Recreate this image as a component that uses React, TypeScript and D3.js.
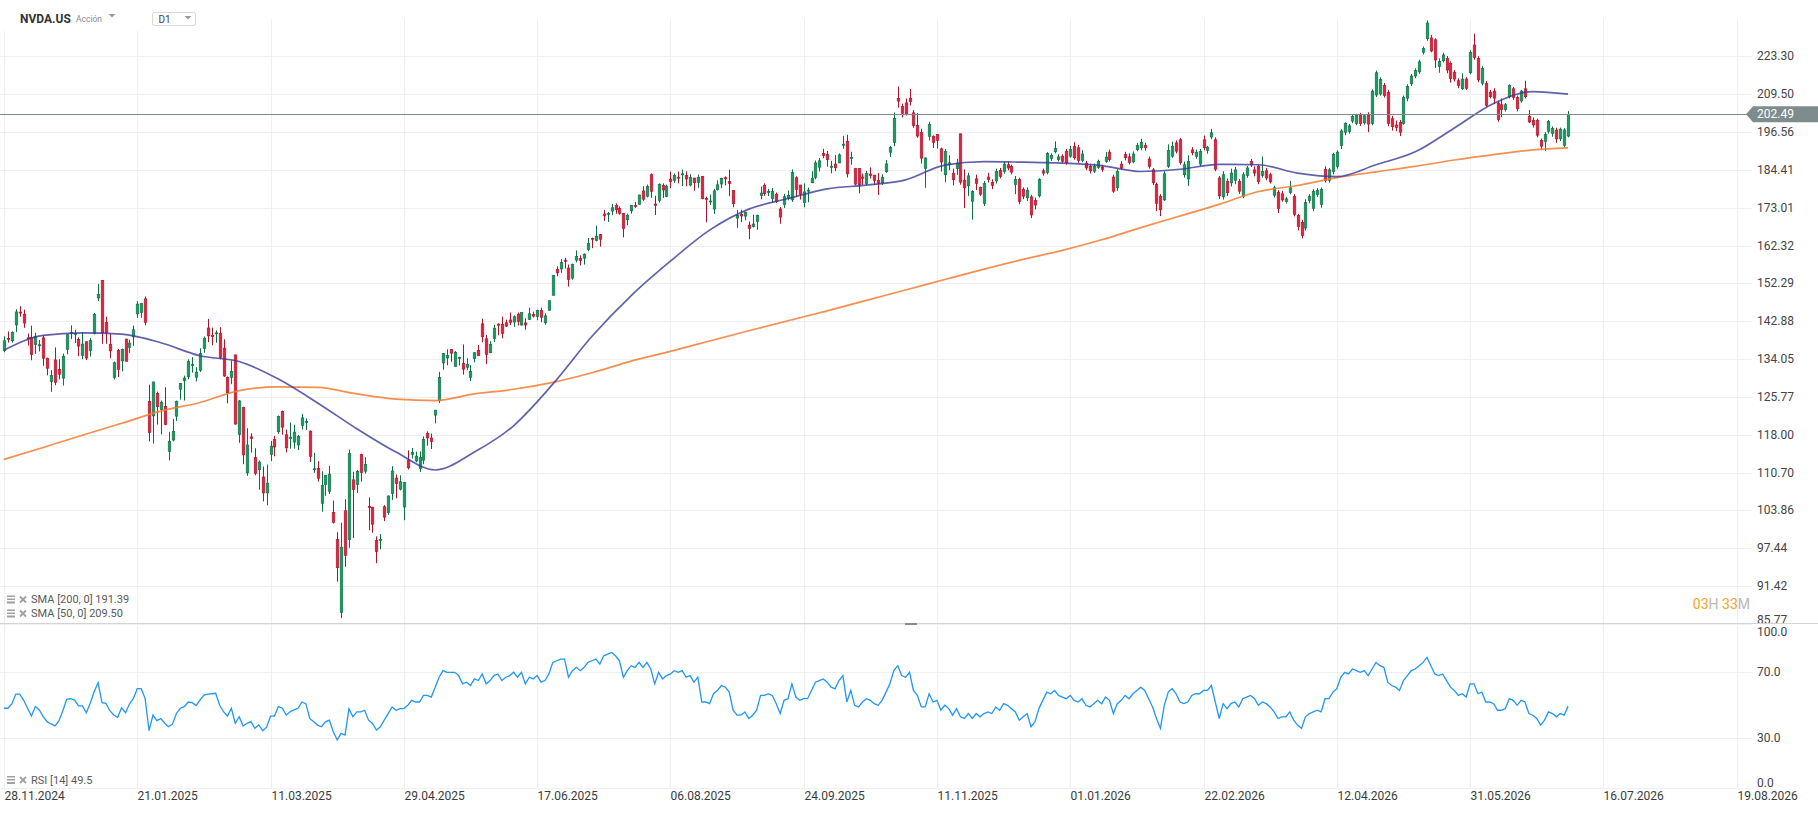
import * as d3 from 'd3'

// NVDA.US daily bars, first bar 29.11.2024
const OPEN = [
  136.0, 138.83, 138.26, 142.0, 145.11, 144.6, 138.97, 139.01, 137.36, 137.08,
  138.94, 134.18, 129.09, 133.86, 131.76, 129.81, 136.28, 140.0, 139.7, 138.55,
  134.83, 138.03, 136.0, 140.01, 148.59, 153.03, 142.58, 137.45, 129.99, 136.05,
  133.65, 138.64, 136.69, 139.16, 144.66, 145.05, 148.37, 124.8, 121.81, 126.5,
  123.1, 123.78, 114.75, 116.96, 121.76, 127.42, 129.22, 130.09, 132.58, 130.02,
  131.56, 136.48, 141.27, 139.51, 140.03, 140.04, 136.56, 129.98, 129.99, 135.0,
  118.02, 123.51, 110.65, 117.58, 113.53, 111.25, 109.9, 106.99, 114.12, 117.03,
  118.61, 122.74, 118.0, 117.27, 116.55, 116.0, 119.88, 120.55, 118.73, 111.35,
  111.49, 105.13, 108.52, 107.29, 103.51, 98.91, 87.46, 103.81, 98.89, 109.37,
  108.5, 114.11, 110.97, 104.55, 104.45, 98.77, 98.78, 104.52, 103.48, 106.85,
  109.69, 107.67, 104.47, 113.08, 114.18, 112.91, 111.48, 113.05, 118.25, 117.35,
  121.97, 124.98, 133.2, 134.3, 136.22, 132.39, 134.29, 133.06, 132.23, 129.99,
  134.15, 136.03, 142.25, 138.72, 135.49, 138.78, 142.19, 142.17, 142.51, 143.19,
  142.69, 144.61, 141.97, 142.48, 143.35, 144.49, 144.01, 145.45, 142.5, 145.56,
  149.27, 155.98, 156.04, 158.37, 156.29, 153.66, 158.37, 158.8, 158.9, 161.22,
  164.32, 163.72, 165.37, 171.19, 171.06, 172.02, 173.64, 172.75, 171.34, 169.53,
  172.08, 173.61, 174.02, 177.96, 176.4, 182.9, 174.09, 175.16, 179.62, 176.33,
  181.57, 181.12, 182.16, 182.96, 182.62, 179.75, 181.88, 180.6, 182.43, 175.71,
  174.85, 172.61, 178.35, 180.06, 181.98, 180.82, 178.11, 170.0, 171.06, 170.57,
  168.03, 167.55, 169.08, 176.64, 179.68, 177.77, 175.67, 177.0, 172.64, 173.98,
  175.77, 175.3, 181.97, 179.77, 174.48, 178.17, 180.43, 182.08, 185.24, 189.6,
  189.19, 185.5, 186.23, 186.57, 192.23, 193.51, 187.97, 184.77, 184.8, 182.23,
  180.18, 183.13, 182.79, 181.14, 180.42, 183.83, 189.99, 193.05, 207.98, 205.15,
  206.45, 208.08, 203.0, 198.77, 196.42, 184.9, 195.11, 195.16, 195.72, 191.05,
  182.86, 185.97, 183.38, 184.79, 195.95, 181.24, 179.49, 174.91, 181.63, 179.01,
  174.3, 182.2, 180.6, 181.0, 184.2, 183.9, 186.0, 185.5, 179.9, 181.4,
  178.4, 175.9, 176.2, 175.1, 176.5, 184.1, 183.6, 188.0, 190.1, 187.6,
  188.7, 190.3, 188.7, 191.9, 191.4, 187.4, 186.5, 185.5, 184.0, 185.2,
  185.3, 187.0, 190.0, 182.2, 178.9, 186.2, 189.2, 188.5, 186.9, 190.8,
  191.4, 192.1, 187.8, 184.4, 179.9, 176.4, 175.3, 185.5, 188.7, 193.0,
  194.0, 182.9, 181.6, 190.7, 188.6, 186.2, 194.0, 190.5, 194.9, 194.0,
  181.9, 176.2, 180.9, 180.4, 181.2, 180.9, 176.4, 182.6, 187.0, 184.4,
  185.5, 182.7, 184.1, 182.9, 176.7, 177.6, 177.1, 174.8, 177.5, 176.4,
  170.7, 168.8, 167.2, 175.1, 172.8, 176.9, 174.0, 184.6, 181.2, 183.9,
  185.5, 192.1, 196.5, 196.7, 200.2, 199.4, 202.1, 199.6, 202.1, 199.4,
  209.2, 209.6, 212.6, 210.2, 201.0, 198.9, 199.8, 199.4, 208.1, 213.2,
  216.0, 217.5, 224.8, 230.0, 230.3, 229.6, 219.5, 221.6, 222.5, 220.6,
  217.4, 214.3, 211.4, 214.9, 217.2, 227.6, 222.5, 213.4, 213.4, 210.2,
  210.6, 206.4, 205.8, 204.1, 208.6, 211.4, 208.3, 207.1, 211.4, 201.9,
  200.5, 200.5, 193.7, 193.5, 196.8, 196.1, 197.2, 194.3, 192.2, 195.2,
]

const HIGH = [
  139.3, 140.45, 140.45, 145.79, 146.54, 145.7, 139.95, 141.82, 140.17, 138.44,
  139.6, 134.4, 131.59, 136.7, 134.03, 135.29, 139.79, 141.9, 140.85, 139.02,
  140.27, 138.07, 138.88, 144.9, 152.16, 153.13, 143.95, 139.92, 133.49, 136.38,
  136.45, 138.75, 138.5, 141.83, 147.79, 147.23, 148.97, 128.4, 129.0, 126.89,
  125.0, 127.85, 118.57, 121.2, 125.0, 128.77, 130.37, 133.99, 134.48, 132.24,
  136.5, 139.25, 143.44, 141.36, 140.67, 141.46, 138.59, 130.2, 133.73, 135.01,
  125.09, 123.7, 119.31, 118.28, 115.35, 113.0, 111.85, 112.23, 116.77, 117.76,
  121.89, 122.9, 119.02, 120.45, 120.0, 117.96, 122.22, 121.29, 118.84, 114.45,
  112.87, 110.96, 110.2, 111.98, 105.63, 100.13, 101.75, 105.85, 115.1, 110.86,
  111.2, 114.29, 113.62, 106.19, 104.47, 99.42, 99.81, 104.8, 106.54, 111.92,
  110.37, 110.2, 108.92, 114.94, 115.4, 114.67, 114.74, 117.68, 118.68, 118.23,
  123.0, 131.22, 135.44, 136.3, 136.35, 135.87, 134.58, 137.4, 134.25, 132.68,
  135.66, 137.25, 143.49, 139.62, 138.12, 142.0, 142.39, 144.0, 143.27, 145.0,
  144.29, 144.99, 145.0, 143.58, 146.18, 145.22, 145.65, 146.2, 144.78, 147.96,
  154.45, 156.72, 158.71, 158.99, 157.2, 157.45, 160.98, 159.67, 160.16, 164.42,
  164.5, 167.89, 165.49, 172.4, 171.75, 174.16, 174.25, 173.38, 171.39, 171.26,
  173.8, 174.72, 176.82, 179.38, 179.89, 183.3, 176.54, 180.26, 180.26, 179.89,
  183.88, 183.3, 183.85, 184.5, 183.97, 183.03, 181.9, 182.94, 182.5, 176.25,
  176.9, 178.58, 181.18, 182.0, 182.35, 184.47, 178.15, 172.38, 172.41, 171.86,
  169.03, 170.96, 170.98, 179.29, 180.28, 178.6, 178.85, 177.5, 173.2, 177.1,
  178.08, 184.55, 182.42, 179.78, 180.26, 178.97, 184.0, 187.35, 188.14, 191.05,
  190.36, 187.23, 189.06, 189.6, 195.3, 195.62, 190.11, 184.8, 184.87, 183.28,
  184.1, 185.2, 182.79, 183.44, 183.03, 187.47, 192.0, 203.15, 212.19, 206.16,
  207.97, 211.34, 203.97, 202.92, 197.62, 188.32, 199.94, 195.42, 195.89, 191.44,
  191.01, 189.0, 184.8, 187.86, 196.0, 184.56, 183.5, 178.16, 182.91, 179.29,
  181.0, 183.5, 181.5, 184.8, 185.0, 186.9, 187.0, 186.0, 182.5, 182.0,
  179.0, 179.0, 176.8, 176.0, 181.8, 184.8, 190.0, 189.6, 193.5, 189.3,
  189.3, 191.0, 192.0, 193.2, 192.3, 190.6, 187.2, 186.3, 186.4, 187.6,
  186.0, 190.0, 190.8, 182.9, 184.6, 187.1, 190.1, 189.6, 190.2, 193.0,
  194.3, 193.0, 188.6, 185.0, 180.5, 177.0, 184.0, 192.5, 193.4, 193.8,
  194.6, 187.0, 189.0, 191.6, 190.8, 191.0, 195.4, 192.0, 197.6, 194.8,
  182.5, 184.0, 181.7, 184.8, 185.3, 181.6, 183.7, 185.6, 187.8, 185.5,
  186.0, 188.6, 185.0, 183.5, 179.5, 178.2, 178.0, 176.2, 181.0, 177.0,
  171.2, 169.5, 175.5, 177.0, 178.5, 178.8, 179.0, 185.5, 185.0, 189.8,
  190.6, 197.5, 199.8, 199.2, 202.4, 202.7, 203.0, 202.6, 203.2, 211.2,
  218.0, 215.5, 213.5, 211.0, 202.0, 200.4, 200.6, 209.0, 213.0, 216.8,
  218.8, 222.0, 227.0, 237.2, 231.5, 230.2, 222.5, 224.6, 223.4, 221.4,
  218.2, 215.2, 217.0, 215.6, 225.6, 232.0, 223.3, 219.6, 214.2, 211.0,
  211.6, 207.2, 208.0, 206.4, 213.0, 212.0, 209.0, 211.0, 214.3, 204.0,
  201.4, 201.0, 194.4, 196.5, 200.6, 198.4, 198.0, 198.0, 197.8, 203.6,
]

const LOW = [
  135.6, 137.82, 137.82, 140.29, 143.95, 141.31, 137.13, 133.79, 135.21, 135.8,
  132.54, 130.42, 126.86, 128.28, 129.55, 128.22, 135.12, 138.65, 137.73, 134.71,
  134.02, 133.83, 134.63, 139.73, 147.82, 137.56, 137.56, 134.22, 129.51, 130.05,
  131.29, 133.49, 135.46, 137.09, 143.67, 143.72, 141.88, 116.7, 116.25, 120.05,
  118.1, 119.9, 113.01, 116.7, 120.76, 125.21, 125.0, 129.58, 131.02, 129.08,
  131.17, 135.5, 137.93, 137.22, 137.78, 134.03, 130.08, 124.44, 128.49, 120.01,
  116.4, 112.28, 110.11, 114.51, 110.22, 107.56, 105.46, 104.77, 112.88, 113.79,
  118.15, 118.0, 114.54, 115.27, 115.27, 115.0, 119.03, 118.96, 112.7, 110.66,
  109.07, 103.65, 106.47, 106.79, 101.6, 92.11, 86.62, 94.46, 97.53, 99.15,
  107.0, 109.07, 110.5, 100.48, 100.05, 95.04, 97.28, 102.02, 103.11, 105.73,
  106.02, 107.44, 102.16, 111.3, 113.37, 112.66, 110.82, 112.28, 115.85, 115.21,
  120.28, 124.47, 131.68, 132.66, 133.46, 132.39, 132.62, 130.59, 131.55, 129.16,
  133.31, 134.79, 137.91, 132.92, 135.4, 137.95, 139.55, 138.83, 141.51, 141.94,
  141.53, 141.87, 141.85, 140.85, 143.2, 143.78, 143.12, 142.65, 142.03, 145.5,
  149.26, 154.13, 155.02, 156.16, 151.49, 153.26, 157.77, 157.0, 157.2, 160.76,
  161.61, 163.47, 162.02, 169.2, 168.9, 170.83, 171.26, 171.0, 164.58, 167.97,
  171.27, 172.96, 173.9, 175.02, 176.04, 175.93, 170.89, 174.52, 175.9, 176.1,
  178.8, 180.4, 180.25, 179.46, 179.35, 179.35, 178.04, 178.9, 175.49, 168.8,
  173.81, 171.2, 178.1, 178.81, 179.62, 176.41, 173.14, 167.22, 168.89, 169.41,
  164.07, 167.35, 166.73, 175.47, 176.48, 176.45, 174.51, 174.38, 168.41, 172.96,
  175.18, 174.71, 176.21, 175.4, 173.13, 174.61, 180.32, 181.48, 183.9, 188.06,
  185.38, 183.33, 184.0, 186.54, 191.06, 182.05, 185.96, 179.7, 177.29, 179.77,
  179.75, 181.73, 179.8, 176.76, 179.79, 183.5, 188.43, 191.91, 204.78, 201.41,
  202.07, 205.56, 197.93, 194.65, 186.38, 178.91, 193.79, 191.3, 191.13, 183.85,
  180.58, 184.32, 179.65, 182.83, 179.85, 172.93, 176.48, 169.55, 178.24, 176.5,
  173.5, 180.5, 178.5, 180.2, 181.8, 183.2, 184.3, 183.0, 177.0, 174.0,
  175.5, 175.0, 170.0, 172.5, 176.0, 182.6, 183.0, 187.2, 189.6, 187.0,
  186.6, 186.0, 188.2, 187.6, 186.6, 186.8, 184.3, 183.3, 183.4, 184.7,
  183.8, 186.6, 187.0, 177.4, 178.0, 184.4, 187.4, 186.1, 186.5, 190.3,
  190.6, 190.5, 184.8, 179.8, 172.0, 170.6, 175.0, 185.0, 188.2, 189.6,
  186.0, 182.0, 179.5, 189.0, 187.9, 185.6, 190.6, 189.5, 194.2, 184.0,
  175.6, 175.4, 176.5, 179.3, 180.0, 177.1, 175.8, 182.0, 185.3, 182.4,
  180.0, 182.0, 181.2, 180.2, 176.0, 171.5, 174.8, 174.2, 177.0, 170.5,
  166.5, 164.3, 166.5, 174.3, 172.0, 176.2, 173.0, 180.5, 180.5, 183.0,
  184.8, 191.0, 195.5, 196.0, 199.5, 198.8, 198.6, 199.0, 196.5, 198.8,
  208.5, 209.0, 208.3, 198.5, 197.0, 196.8, 195.2, 199.0, 207.0, 212.4,
  215.2, 216.8, 224.0, 229.2, 224.8, 219.0, 217.2, 221.0, 217.0, 213.6,
  214.0, 211.6, 211.0, 211.0, 216.6, 222.0, 213.8, 212.6, 205.0, 208.0,
  206.0, 200.0, 201.5, 203.5, 208.0, 207.5, 203.5, 206.5, 208.0, 199.5,
  198.0, 194.8, 190.8, 190.4, 196.0, 195.0, 193.0, 193.6, 191.5, 194.8,
]

const CLOSE = [
  138.25, 138.63, 140.26, 145.14, 145.06, 142.44, 138.81, 135.07, 139.31, 137.34,
  134.25, 132.0, 130.39, 128.91, 130.68, 134.7, 139.67, 140.22, 139.93, 137.01,
  137.49, 134.29, 138.31, 144.47, 149.43, 140.14, 140.11, 135.91, 133.23, 131.76,
  136.24, 133.57, 137.71, 140.83, 147.07, 147.22, 142.62, 118.42, 128.99, 123.7,
  124.65, 120.07, 116.66, 118.65, 124.83, 128.68, 129.84, 133.57, 132.8, 131.14,
  135.29, 138.85, 139.4, 139.23, 140.11, 134.43, 130.28, 126.63, 131.28, 120.15,
  124.92, 114.06, 115.99, 117.3, 110.57, 112.69, 106.98, 108.76, 115.74, 115.58,
  121.67, 119.53, 115.43, 117.52, 118.53, 117.7, 121.41, 120.69, 113.76, 111.43,
  109.67, 108.38, 110.15, 110.42, 101.8, 94.31, 97.64, 96.3, 114.33, 107.57,
  110.93, 110.71, 112.2, 104.49, 101.49, 96.91, 98.89, 102.71, 106.43, 111.01,
  108.73, 109.02, 108.92, 111.61, 114.5, 113.82, 113.54, 117.06, 117.37, 116.65,
  123.0, 129.93, 135.34, 134.83, 135.4, 135.57, 134.38, 131.8, 132.83, 131.29,
  135.5, 134.81, 139.19, 135.13, 137.38, 141.22, 141.92, 139.99, 141.72, 142.63,
  143.96, 142.83, 145.0, 141.97, 144.69, 144.12, 145.48, 143.85, 144.17, 147.9,
  154.31, 155.02, 157.75, 157.99, 153.3, 157.25, 159.34, 158.24, 160.0, 162.88,
  164.1, 164.92, 164.07, 170.7, 171.37, 173.0, 172.41, 171.38, 167.03, 170.78,
  173.74, 173.5, 176.75, 175.51, 179.27, 177.87, 173.72, 180.0, 178.26, 179.42,
  180.77, 182.7, 182.06, 183.16, 181.59, 182.02, 180.45, 182.01, 175.64, 175.4,
  174.98, 177.99, 179.81, 181.77, 181.6, 180.17, 174.18, 170.78, 170.62, 171.66,
  167.02, 168.31, 170.76, 177.33, 177.17, 177.82, 177.75, 174.88, 170.29, 176.24,
  176.67, 183.61, 178.43, 176.97, 177.69, 178.19, 181.85, 186.58, 187.24, 188.89,
  187.62, 185.54, 185.04, 189.11, 192.57, 183.16, 188.32, 180.03, 179.83, 181.81,
  183.22, 182.64, 181.16, 180.28, 182.16, 186.26, 191.49, 201.03, 207.04, 202.89,
  202.49, 206.88, 198.69, 195.21, 188.08, 188.15, 199.05, 193.16, 193.8, 186.86,
  190.17, 186.6, 181.36, 186.52, 180.64, 178.88, 182.55, 177.82, 180.26, 177.0,
  180.2, 181.4, 179.6, 183.9, 182.4, 186.2, 185.0, 183.7, 181.4, 174.8,
  176.4, 178.2, 170.9, 173.8, 181.4, 183.4, 189.5, 188.9, 191.1, 188.5,
  187.1, 186.6, 190.8, 188.2, 187.4, 189.4, 185.0, 184.1, 185.5, 187.0,
  184.5, 188.4, 187.6, 177.9, 183.9, 185.0, 188.2, 186.7, 189.4, 192.1,
  193.2, 191.4, 185.5, 180.4, 174.3, 172.4, 183.2, 190.5, 191.9, 190.3,
  186.7, 186.0, 187.0, 189.8, 190.0, 190.3, 191.4, 191.6, 196.3, 184.6,
  176.5, 182.9, 177.4, 183.4, 184.4, 177.9, 182.9, 185.0, 186.0, 183.4,
  180.8, 183.9, 181.9, 180.7, 178.9, 172.8, 175.3, 175.6, 178.9, 171.1,
  167.6, 165.1, 174.6, 176.4, 177.8, 178.1, 178.4, 181.1, 184.4, 189.2,
  190.0, 196.9, 199.4, 198.6, 201.8, 202.1, 199.4, 202.0, 199.2, 210.6,
  217.2, 214.7, 209.0, 199.4, 198.3, 198.0, 196.5, 208.3, 212.2, 216.0,
  218.0, 221.2, 226.3, 236.2, 225.3, 221.9, 221.3, 223.8, 218.2, 215.1,
  214.9, 212.6, 214.9, 211.6, 224.8, 222.8, 214.6, 218.8, 205.6, 208.6,
  208.1, 200.7, 204.1, 205.8, 212.6, 208.3, 204.4, 210.6, 208.6, 199.9,
  198.9, 195.5, 191.9, 195.7, 200.1, 197.8, 194.3, 197.5, 197.2, 202.49,
]

// RSI(14), one value per bar
const RSI = [
  48.2, 48.2, 50.8, 56.8, 56.8, 53.2, 48.2, 43.5, 49.2, 47.2,
  43.1, 40.1, 38.7, 37.5, 40.5, 46.7, 53.6, 54.0, 53.2, 49.6,
  49.6, 45.5, 51.2, 58.2, 63.7, 51.6, 51.2, 46.7, 44.1, 42.7,
  48.5, 45.5, 50.8, 54.2, 60.1, 60.1, 54.2, 34.6, 44.1, 40.7,
  41.9, 39.1, 37.0, 38.7, 45.2, 48.2, 49.2, 52.0, 51.6, 49.8,
  53.2, 56.2, 56.8, 57.0, 57.3, 50.2, 46.1, 43.5, 48.2, 39.1,
  43.1, 37.5, 39.1, 40.1, 36.1, 38.1, 34.6, 36.7, 43.5, 43.5,
  49.2, 48.2, 44.1, 46.1, 47.2, 48.2, 52, 51, 42, 40,
  38, 37, 40, 41, 34, 29, 33, 32, 48, 43,
  46, 46, 47, 41, 39, 35, 37, 41, 45, 49,
  47, 48, 48, 50, 53, 52, 52, 56, 56, 55,
  61, 67, 71, 70, 70, 70, 68, 63, 64, 62,
  66, 65, 69, 63, 65, 68, 69, 65, 67, 68,
  70, 67, 70, 63, 67, 66, 68, 64, 65, 69,
  76, 77, 78, 78, 67, 71, 73, 71, 73, 76,
  77, 78, 75, 80, 81, 82, 80, 77, 67, 71,
  74, 73, 76, 73, 76, 72, 63, 70, 66, 68,
  69, 71, 70, 71, 67, 68, 64, 67, 52, 52,
  51, 57, 59, 62, 61, 58, 47, 44, 44, 46,
  42, 44, 47, 56, 56, 57, 56, 51, 45, 53,
  54, 63, 55, 53, 54, 54, 59, 64, 65, 66,
  64, 61, 60, 65, 68, 52, 59, 50, 49, 52,
  54, 53, 51, 50, 53, 58, 63, 71, 74, 68,
  67, 70, 59, 56, 49, 49, 57, 52, 53, 47,
  50, 48, 44, 48, 43, 42, 45, 42, 45, 43,
  45, 46, 45, 49, 47, 51, 50, 48, 46, 41,
  43, 45, 37, 40, 48, 53, 58, 57, 59, 56,
  55, 54, 56, 53, 52, 54, 50, 49, 51, 53,
  51, 55, 53, 45, 51, 53, 56, 54, 57, 59,
  61, 59, 54, 49, 42, 36, 50, 58, 60, 57,
  52, 51, 52, 56, 57, 57, 59, 59, 62, 52,
  42, 51, 48, 51, 52, 49, 54, 55, 56, 54,
  50, 52, 51, 49, 46, 42, 43, 43, 46, 41,
  38, 36, 43, 45, 46, 47, 46, 54, 54, 58,
  60, 67, 70, 69, 72, 71, 70, 71, 68, 72,
  76, 74, 73, 64, 62, 61, 59, 65, 68, 71,
  72, 74, 76, 79, 74, 69, 68, 69, 65, 61,
  59, 56, 57, 55, 63, 63, 57, 58, 52, 52,
  51, 47, 47, 48, 54, 53, 50, 53, 52, 45,
  44, 42, 38, 41, 46, 45, 43, 45, 44, 49.5,
]

// moving averages sampled every 10 bars
const SMA_BARS = [
  0, 10, 20, 30, 40, 50, 60, 70, 80, 90, 100, 110, 120, 130, 140, 150, 160, 170, 180, 190,
  200, 210, 220, 230, 240, 250, 260, 270, 280, 290, 300, 310, 320, 330, 340, 350, 360, 370, 380, 390, 399,
]
const SMA200 = [
  113.2, 115.5, 117.9, 120.3, 122.8, 124.6, 127.1, 127.9, 127.8, 126.4,
  125.3, 125.0, 126.4, 127.4, 128.9, 131.0, 133.6, 135.8, 138.2, 140.6,
  143.0, 145.4, 148.0, 150.6, 153.3, 156.0, 158.6, 161.0, 163.9, 167.3,
  170.6, 174.0, 177.8, 179.6, 182.0, 183.8, 185.5, 187.5, 189.2, 190.7, 191.39,
]
const SMA50 = [
  136.1, 139.5, 140.1, 139.8, 137.8, 134.8, 133.5, 129.6, 124.5, 119.2,
  114.6, 111.2, 114.6, 119.8, 128.5, 139.3, 149.2, 158.1, 166.6, 172.6,
  175.7, 178.6, 179.7, 181.3, 185.9, 187.0, 186.8, 186.5, 185.7, 183.9,
  184.6, 186.1, 186.0, 183.4, 182.3, 186.0, 190.1, 197.9, 206.2, 210.4, 209.5,
]

const PRICE_TICKS = [223.3, 209.5, 196.56, 184.41, 173.01, 162.32, 152.29, 142.88, 134.05, 125.77, 118.0, 110.7, 103.86, 97.44, 91.42, 85.77]
const RSI_TICKS = [100, 70, 30, 0]
const DATE_LABELS = [
  '28.11.2024', '21.01.2025', '11.03.2025', '29.04.2025', '17.06.2025', '06.08.2025', '24.09.2025',
  '11.11.2025', '01.01.2026', '22.02.2026', '12.04.2026', '31.05.2026', '16.07.2026', '19.08.2026',
]
const BARS_PER_LABEL = 34
const LAST_PRICE = 202.49

const FONT = 'Roboto, "Noto Sans", Arial, sans-serif'
const GREEN = '#1c9963'
const GREEN_EDGE = '#0f6e45'
const RED = '#e2233f'
const RED_EDGE = '#a9162c'
const GRID = '#efefef'

export default function App() {
  const x = d3.scaleLinear().domain([0, BARS_PER_LABEL]).range([4, 137.28])
  const y = d3.scaleLog().domain([85.77, 223.3]).range([624.05, 56.3])
  const yr = d3.scaleLinear().domain([0, 100]).range([787.8, 622.8])

  const n = Math.min(OPEN.length, HIGH.length, LOW.length, CLOSE.length)
  const bars = d3.range(n)

  const smaLine = d3.line<number>()
    .x((_, k) => x(SMA_BARS[k]))
    .y(v => y(v))
    .curve(d3.curveMonotoneX)
  const rsiLine = d3.line<number>()
    .x((_, i) => x(i))
    .y(v => yr(v))

  const plotRight = 1752
  const axisX = 1757
  const lastY = y(LAST_PRICE)

  return (
    <svg width={1818} height={813} style={{ position: 'absolute', left: 0, top: 0, background: '#fff' }} fontFamily={FONT}>
      <rect width={1818} height={813} fill="#fff" />

      {/* vertical date grid */}
      {DATE_LABELS.map((_, k) => {
        const gx = Math.round(x(k * BARS_PER_LABEL)) + 0.5
        return <line key={`vg-${k}`} x1={gx} x2={gx} y1={19} y2={788} stroke={GRID} />
      })}

      {/* price grid + labels */}
      {PRICE_TICKS.map(t => {
        const gy = Math.round(y(t)) + 0.5
        return (
          <g key={`pt-${t}`}>
            <line x1={0} x2={plotRight} y1={gy} y2={gy} stroke={GRID} />
            <text x={axisX} y={Math.min(y(t), 619.5)} dominantBaseline="central" fontSize={12} fill="#444">
              {t.toFixed(2)}
            </text>
          </g>
        )
      })}

      {/* rsi grid + labels */}
      {RSI_TICKS.map(t => {
        const gy = Math.round(yr(t)) + 0.5
        return (
          <g key={`rt-${t}`}>
            {t < 100 && <line x1={0} x2={plotRight} y1={gy} y2={gy} stroke={GRID} />}
            <text x={axisX} y={Math.max(Math.min(yr(t), 782.5), 631.5)} dominantBaseline="central" fontSize={12} fill="#444">
              {t.toFixed(1)}
            </text>
          </g>
        )
      })}

      {/* panel separator */}
      <line x1={0} x2={1818} y1={623.5} y2={623.5} stroke="#d4d4d4" />
      <rect x={905} y={623} width={12} height={2} fill="#8a8a8a" />

      {/* candles */}
      {bars.map(i => {
        const o = OPEN[i], c = CLOSE[i]
        const up = c >= o
        const cx = Math.round(x(i)) + 0.5
        const top = y(Math.max(o, c))
        const bot = y(Math.min(o, c))
        return (
          <g key={`c-${i}`}>
            <line x1={cx} x2={cx} y1={y(HIGH[i])} y2={y(LOW[i])} stroke={up ? GREEN_EDGE : RED_EDGE} />
            <rect
              x={cx - 1.3}
              y={top}
              width={2.6}
              height={Math.max(1, bot - top)}
              fill={up ? GREEN : RED}
              stroke={up ? GREEN_EDGE : RED_EDGE}
              strokeWidth={0.6}
            />
          </g>
        )
      })}

      {/* moving averages */}
      <path d={smaLine(SMA200) ?? ''} fill="none" stroke="#f37a2f" strokeWidth={1.7} strokeOpacity={0.85} />
      <path d={smaLine(SMA50) ?? ''} fill="none" stroke="#3a3a96" strokeWidth={1.7} strokeOpacity={0.8} />

      {/* last price line and tag */}
      <line x1={0} x2={1747} y1={Math.round(lastY) + 0.5} y2={Math.round(lastY) + 0.5} stroke="#7d8b8f" />
      <path
        d={`M1746,${lastY} L1753,${lastY - 8} L1818,${lastY - 8} L1818,${lastY + 8} L1753,${lastY + 8} Z`}
        fill="#7f8c8d"
      />
      <text x={axisX} y={lastY} dominantBaseline="central" fontSize={12} fill="#fff">
        {LAST_PRICE.toFixed(2)}
      </text>

      {/* RSI line */}
      <path d={rsiLine(RSI.slice(0, n)) ?? ''} fill="none" stroke="#2196f3" strokeWidth={1.3} />

      {/* date labels */}
      {DATE_LABELS.map((d, k) => (
        <text key={`dl-${k}`} x={Math.round(x(k * BARS_PER_LABEL)) + 0.5} y={796} dominantBaseline="central" fontSize={12} fill="#3a3a3a">
          {d}
        </text>
      ))}

      {/* indicator legends */}
      {[
        { label: 'SMA [200, 0] 191.39', cy: 599.5 },
        { label: 'SMA [50, 0] 209.50', cy: 613.5 },
        { label: 'RSI [14] 49.5', cy: 780 },
      ].map(l => (
        <g key={l.label}>
          <rect x={7} y={l.cy - 4} width={8} height={1.5} fill="#a0a0a0" />
          <rect x={7} y={l.cy - 1} width={8} height={1.5} fill="#a0a0a0" />
          <rect x={7} y={l.cy + 2} width={8} height={2} fill="#a0a0a0" />
          <path d={`M20,${l.cy - 3} L26,${l.cy + 3} M26,${l.cy - 3} L20,${l.cy + 3}`} stroke="#a0a0a0" strokeWidth={1.8} />
          <text x={31} y={l.cy} dominantBaseline="central" fontSize={11} fill="#5a5a5a">{l.label}</text>
        </g>
      ))}

      {/* session countdown */}
      <text x={1750} y={604} textAnchor="end" dominantBaseline="central" fontSize={14}>
        <tspan fill="#f7a128">03</tspan>
        <tspan fill="#b8b8b8">H</tspan>
        <tspan fill="#f7a128"> 33</tspan>
        <tspan fill="#b8b8b8">M</tspan>
      </text>

      {/* header */}
      <rect x={0} y={0} width={205} height={31} fill="#fff" />
      <text x={20} y={18.5} dominantBaseline="central" fontSize={12} fontWeight="bold" fill="#333">NVDA.US</text>
      <text x={76} y={19} dominantBaseline="central" fontSize={8.5} fill="#8a8a8a">Acción</text>
      <path d="M108.5,14 L115.5,14 L112,17.5 Z" fill="#9a9a9a" />
      <rect x={152.5} y={12.5} width={43} height={13} rx={2} fill="#fff" stroke="#d8d8d8" />
      <text x={158.5} y={19.2} dominantBaseline="central" fontSize={10} fill="#444">D1</text>
      <path d="M184.5,16 L191.5,16 L188,19.5 Z" fill="#9a9a9a" />
    </svg>
  )
}
